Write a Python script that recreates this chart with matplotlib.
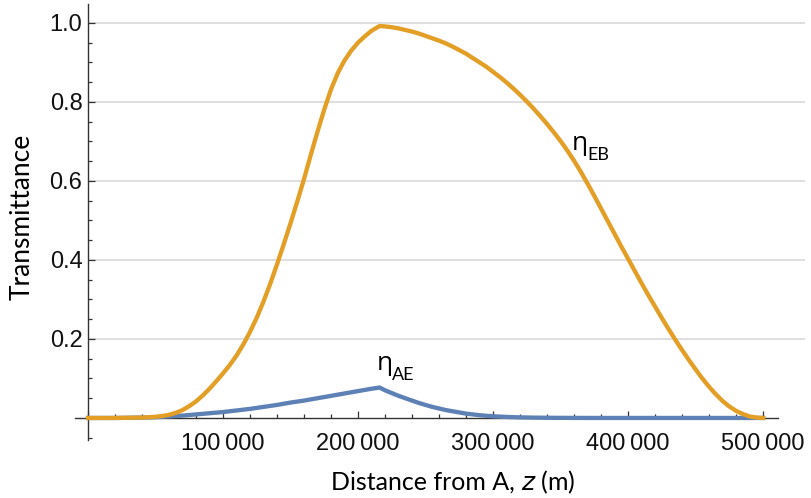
import numpy as np
import matplotlib
matplotlib.use("Agg")
import matplotlib.pyplot as plt
from matplotlib.ticker import FixedLocator, FuncFormatter

# distance from A (km, converted to m below) and transmittance
z_eb_km = [0, 10, 20, 30, 40, 45, 50, 55, 60, 65, 70, 75, 80, 85, 90, 95, 100,
           105, 110, 115, 120, 125, 130, 135, 140, 145, 150, 155, 160, 165,
           170, 175, 180, 185, 190, 195, 200, 205, 210, 216, 220, 225, 230,
           235, 240, 245, 250, 255, 260, 265, 270, 275, 280, 285, 290, 295,
           300, 305, 310, 315, 320, 325, 330, 335, 340, 345, 350, 355, 360,
           365, 370, 375, 380, 385, 390, 395, 400, 405, 410, 415, 420, 425,
           430, 435, 440, 445, 450, 455, 460, 465, 470, 475, 480, 485, 490,
           495, 500]
eta_eb = [0.0, 0.0, 0.0, 0.0005, 0.001, 0.002, 0.003, 0.005, 0.008, 0.013,
          0.02, 0.03, 0.042, 0.057, 0.074, 0.093, 0.113, 0.134, 0.158, 0.186,
          0.218, 0.254, 0.295, 0.34, 0.389, 0.44, 0.493, 0.548, 0.605, 0.666,
          0.725, 0.781, 0.832, 0.873, 0.905, 0.93, 0.95, 0.966, 0.98, 0.992,
          0.991, 0.989, 0.986, 0.982, 0.978, 0.973, 0.967, 0.961, 0.955,
          0.948, 0.94, 0.931, 0.922, 0.911, 0.90, 0.889, 0.876, 0.863,
          0.849, 0.834, 0.818, 0.801, 0.783, 0.764, 0.744, 0.723, 0.701,
          0.677, 0.651, 0.623, 0.593, 0.562, 0.530, 0.498, 0.466, 0.434,
          0.403, 0.372, 0.341, 0.311, 0.282, 0.253, 0.225, 0.198, 0.172,
          0.147, 0.123, 0.10, 0.079, 0.06, 0.043, 0.029, 0.018, 0.01,
          0.004, 0.001, 0.0]

z_ae_km = [0, 20, 40, 50, 60, 70, 80, 90, 100, 110, 120, 130, 140, 150, 160,
           170, 180, 190, 200, 210, 216, 220, 225, 230, 235, 240, 245, 250,
           255, 260, 265, 270, 275, 280, 285, 290, 295, 300, 310, 320, 330,
           340, 360, 380, 420, 460, 500]
eta_ae = [0.0, 0.0, 0.001, 0.002, 0.004, 0.006, 0.009, 0.012, 0.015, 0.019,
          0.023, 0.028, 0.033, 0.039, 0.044, 0.050, 0.056, 0.062, 0.068,
          0.074, 0.077, 0.070, 0.063, 0.056, 0.050, 0.044, 0.038, 0.033,
          0.028, 0.024, 0.020, 0.017, 0.014, 0.011, 0.009, 0.007, 0.0055,
          0.0043, 0.0026, 0.0015, 0.0009, 0.0005, 0.0001, 0.0, 0.0, 0.0, 0.0]

z_eb = np.array(z_eb_km) * 1000
z_ae = np.array(z_ae_km) * 1000

x_major = [0, 100000, 200000, 300000, 400000, 500000]
y_major = [0, 0.2, 0.4, 0.6, 0.8, 1.0]
grid_y = [0.2, 0.4, 0.6, 0.8, 1.0]

orange = "#E39E26"
blue = "#5E81B5"
tick_font = "Liberation Sans"
label_font = ["Lato", "DejaVu Sans"]

fig = plt.figure(figsize=(8.11, 4.98), dpi=100)
ax = fig.add_axes([0.0919, 0.1131, 0.9006, 0.887])

ax.set_xlim(-10000, 531000)
ax.set_ylim(-0.06, 1.058)

ax.hlines(grid_y, 0, 531000, colors="#d9d9d9", lw=1.2, zorder=1)

ax.plot(z_ae, eta_ae, color=blue, lw=3.1, zorder=3, solid_joinstyle="miter")
ax.plot(z_eb, eta_eb, color=orange, lw=3.1, zorder=4, solid_joinstyle="round")

# mathematica style axes crossing at origin
for s in ["top", "right"]:
    ax.spines[s].set_visible(False)
ax.spines["left"].set_position(("data", 0))
ax.spines["bottom"].set_position(("data", 0))
ax.spines["bottom"].set_bounds(-10000, 511000)
ax.spines["left"].set_bounds(-0.057, 1.047)
for s in ["left", "bottom"]:
    ax.spines[s].set_color("#333333")
    ax.spines[s].set_linewidth(1.0)
    ax.spines[s].set_zorder(2)

ax.xaxis.set_major_locator(FixedLocator(x_major))
ax.xaxis.set_minor_locator(FixedLocator(np.arange(20000, 500001, 20000)))
ax.yaxis.set_major_locator(FixedLocator(y_major))
ax.yaxis.set_minor_locator(FixedLocator(np.arange(-0.05, 1.0, 0.05)))


def fmt_x(v, pos):
    if v == 0:
        return ""
    s = "{:,}".format(int(v))
    return s.replace(",", "\u2009")


def fmt_y(v, pos):
    if abs(v) < 1e-9:
        return ""
    return "{:.1f}".format(v)


ax.xaxis.set_major_formatter(FuncFormatter(fmt_x))
ax.yaxis.set_major_formatter(FuncFormatter(fmt_y))

ax.tick_params(which="both", direction="in", color="#333333", width=0.9,
               labelsize=17, labelcolor="#111111")
ax.tick_params(which="major", length=5)
ax.tick_params(which="minor", length=3)
ax.tick_params(axis="x", pad=11)
ax.tick_params(axis="y", pad=4)
for lab in ax.get_xticklabels() + ax.get_yticklabels():
    lab.set_family(tick_font)

# axis labels
fig.text(521 / 811, 1 - 490 / 498, "Distance from A, ", fontsize=18,
         family=label_font, ha="right", va="baseline")
fig.text(521 / 811, 1 - 490 / 498, "$\\mathit{z}$ (m)", fontsize=18,
         family=label_font, ha="left", va="baseline")
fig.text(22 / 811, 1 - 217 / 498, "Transmittance", fontsize=19,
         family=label_font, rotation=90, ha="center", va="center")

# curve labels
eta_font = ["Open Sans", "DejaVu Sans"]
for (zx, yy, sub) in [(214000, 0.1215, "AE"), (358500, 0.678, "EB")]:
    ax.text(zx, yy, "η", fontsize=19, family=eta_font, ha="left",
            va="baseline", zorder=5)
    ax.annotate(sub, xy=(zx, yy), xytext=(11, -7), textcoords="offset points",
                fontsize=13, family=label_font, ha="left", va="baseline",
                zorder=5)

fig.savefig("out.png", dpi=100)
